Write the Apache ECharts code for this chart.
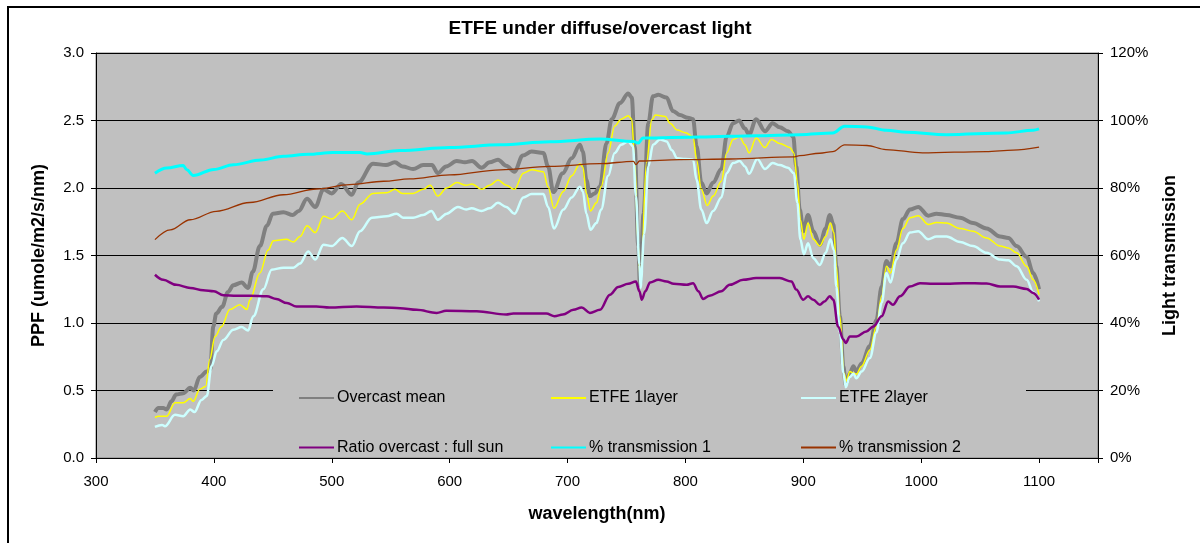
<!DOCTYPE html>
<html>
<head>
<meta charset="utf-8">
<script src="https://cdn.jsdelivr.net/npm/echarts@6/dist/echarts.min.js"></script>
<style>
  html, body { margin: 0; padding: 0; background: #ffffff; }
  #chart { width: 1200px; height: 543px; }
</style>
</head>
<body>
<div id="chart"></div>
<script>
// Wavelength (nm) / value pairs for each measured curve.
// PPF curves in umole/m2/s/nm (left axis).
const overcastMean = [
  [350,0.34],[353,0.37],[357,0.37],[360,0.36],[364,0.42],[368,0.47],[374,0.48],[380,0.52],[383,0.50],
  [388,0.60],[394,0.64],[397,0.66],[399.5,0.975],[402,1.07],[407,1.12],[412,1.23],[416.5,1.28],[423.5,1.30],
  [429,1.26],[433,1.38],[439,1.57],[445,1.72],[450,1.81],[459,1.82],[467,1.80],[472,1.83],[479,1.92],
  [486,1.86],[493,1.99],[500,1.96],[508,2.03],[517,1.95],[522.5,2.04],[535,2.18],[546,2.17],[553.5,2.19],
  [560,2.16],[569,2.14],[577.5,2.17],[585,2.17],[590,2.11],[597,2.16],[606,2.20],[613,2.19],[619,2.20],
  [627,2.15],[634,2.19],[641,2.21],[648,2.165],[655,2.12],[662,2.24],[669.5,2.27],[679.5,2.26],[683.5,2.16],
  [688,1.97],[696,2.11],[703.5,2.22],[710.5,2.32],[713,2.27],[716,2.06],[719,1.94],[723,1.96],[727.5,2.01],
  [733,2.33],[737.5,2.51],[744.5,2.63],[751.5,2.70],[754.5,2.67],[757,2.31],[760,1.57],[761.5,1.28],
  [764.5,1.81],[768.5,2.48],[772.5,2.68],[777,2.69],[784,2.67],[789.5,2.57],[795.5,2.54],[802,2.52],
  [806.5,2.51],[809.5,2.31],[813.5,2.04],[818,1.96],[823.5,2.04],[830.5,2.14],[835,2.38],[840.5,2.48],
  [845.5,2.50],[850.5,2.44],[854,2.395],[860,2.51],[867.5,2.42],[874,2.48],[880,2.45],[887,2.42],
  [891.5,2.38],[894,2.16],[897,1.84],[900,1.68],[904,1.80],[908.5,1.68],[914,1.58],[919,1.70],[922.5,1.80],
  [925.5,1.73],[928,1.42],[931,1.05],[934,0.68],[936,0.54],[939.5,0.63],[942.5,0.68],[945,0.64],[949.5,0.70],
  [956.5,0.83],[962,1.02],[966.5,1.27],[970.5,1.46],[974,1.42],[979,1.59],[984.5,1.77],[990.5,1.84],
  [997.5,1.86],[1006,1.795],[1013,1.81],[1021.5,1.80],[1033,1.78],[1044,1.74],[1055.5,1.70],[1067,1.64],
  [1074,1.63],[1081,1.57],[1089.5,1.49],[1095,1.37],[1100,1.25]
];

const etfe1Layer = [
  [350,0.30],[353,0.31],[357,0.31],[360,0.31],[367,0.41],[374,0.41],[380,0.44],[382.5,0.42],[388,0.51],
  [393,0.53],[396.5,0.73],[401,0.90],[406.5,0.975],[413.5,1.10],[422,1.135],[428,1.10],[430.5,1.17],
  [439,1.37],[446,1.54],[450.5,1.61],[461.5,1.62],[467.5,1.60],[473,1.64],[479,1.72],[486,1.67],[493,1.79],
  [500,1.77],[509,1.83],[517,1.765],[524,1.88],[535,1.96],[546.5,1.965],[553.5,1.99],[560,1.96],[569,1.96],
  [577.5,1.99],[583.5,2.02],[590,1.94],[597.5,2.00],[606,2.04],[614,2.02],[619,2.03],[627,1.99],[634,2.02],
  [641,2.06],[648,2.02],[655,1.99],[662.5,2.11],[669.5,2.135],[679.5,2.12],[683.5,2.01],[688.5,1.85],
  [696.5,1.975],[703.5,2.09],[710.5,2.18],[713,2.155],[716,1.96],[719.5,1.83],[724.5,1.89],[728.5,2.01],
  [734.5,2.26],[740,2.46],[745.5,2.51],[751.5,2.535],[754.5,2.51],[757,2.185],[760,1.57],[762,1.27],
  [767,2.19],[771.5,2.505],[774.5,2.54],[783,2.53],[787,2.48],[793,2.43],[800,2.41],[806.5,2.38],
  [809.5,2.21],[813.5,1.99],[818.5,1.87],[823.5,1.94],[830.5,2.05],[835,2.26],[840.5,2.36],[846,2.38],
  [850.5,2.32],[854,2.26],[860,2.37],[867.5,2.30],[873,2.36],[880,2.33],[888.5,2.30],[892,2.26],[895,2.04],
  [897.5,1.765],[900.5,1.62],[904,1.74],[908.5,1.62],[914,1.57],[919,1.64],[923,1.74],[926,1.67],[928,1.42],
  [931,1.05],[934.5,0.63],[936.5,0.57],[939.5,0.64],[942.5,0.63],[945,0.62],[949.5,0.68],[956.5,0.80],
  [962,0.975],[966.5,1.20],[970.5,1.42],[974,1.37],[979,1.54],[984.5,1.70],[990.5,1.78],[997.5,1.795],
  [1006,1.73],[1013,1.745],[1021.5,1.74],[1033,1.70],[1044,1.68],[1055.5,1.63],[1067,1.57],[1074,1.555],
  [1081,1.52],[1089.5,1.42],[1095,1.32],[1100,1.21]
];

const etfe2Layer = [
  [350,0.23],[356,0.245],[358.5,0.235],[367,0.32],[374,0.31],[380,0.36],[383.5,0.34],[389.5,0.43],[394,0.46],
  [398,0.68],[402.5,0.79],[408,0.875],[416.5,0.95],[423.5,0.97],[429,0.945],[433.5,1.05],[442,1.25],
  [449,1.395],[459,1.41],[467.5,1.41],[473,1.44],[480,1.53],[486,1.47],[493,1.58],[500,1.57],[509,1.63],
  [517,1.57],[524,1.68],[534,1.78],[546.5,1.79],[555,1.81],[560.5,1.78],[569,1.78],[577.5,1.80],[584.5,1.83],
  [590,1.765],[597.5,1.81],[607,1.86],[614,1.84],[618.5,1.85],[627,1.83],[634,1.85],[641,1.89],[648,1.86],
  [655,1.81],[662.5,1.93],[669.5,1.955],[679.5,1.955],[683.5,1.86],[688.5,1.70],[696.5,1.84],[703.5,1.93],
  [710.5,2.01],[713,1.975],[716,1.81],[719.5,1.69],[724.5,1.74],[728.5,1.84],[734.5,2.09],[740,2.26],
  [745.5,2.32],[751.5,2.345],[755.5,2.31],[758,1.94],[761,1.43],[762,1.26],[765,1.66],[768.5,2.16],
  [772.5,2.32],[778.5,2.36],[784,2.345],[788.5,2.28],[793,2.22],[800,2.215],[806.5,2.21],[809.5,2.06],
  [813.5,1.84],[818,1.74],[823.5,1.83],[830.5,1.93],[835,2.11],[840.5,2.185],[846,2.20],[850.5,2.16],
  [854,2.105],[861,2.215],[867.5,2.14],[874,2.185],[880,2.17],[887,2.15],[892,2.11],[895,1.89],[897.5,1.62],
  [900.5,1.51],[904,1.59],[908.5,1.48],[914,1.43],[919,1.52],[923,1.62],[926,1.54],[928,1.27],[931,0.93],
  [934,0.63],[936,0.525],[939.5,0.60],[942.5,0.625],[945,0.59],[949.5,0.64],[956.5,0.74],[962,0.93],
  [966.5,1.15],[970.5,1.37],[974,1.30],[979,1.47],[984.5,1.59],[990.5,1.67],[997.5,1.68],[1006,1.62],
  [1013,1.64],[1021.5,1.64],[1033,1.60],[1044,1.57],[1055.5,1.52],[1067,1.47],[1074,1.465],[1081,1.42],
  [1089.5,1.32],[1095,1.23],[1100,1.16]
];

// Percent curves (right axis).
const ratioOvercastFullSun = [
  [350,54.3],[357,52.8],[368,51.3],[380,50.4],[391,49.7],[400,49.4],[408,48.2],[419,48.1],[430,48.1],
  [445,47.9],[453,47.1],[462,45.9],[470,44.9],[487,44.9],[498,44.6],[521,44.9],[544,44.6],[558,44.4],
  [572,43.9],[589,43.0],[597,43.6],[623,43.5],[648,42.5],[654,42.8],[682,42.8],[689,42.0],[696,42.5],
  [705,43.9],[712,44.6],[719,43.0],[727.5,43.9],[736,48.4],[743,50.7],[751.5,51.6],[758,52.3],[761,49.4],
  [763,46.9],[766,49.4],[770,52.0],[777,52.8],[784,52.3],[790,51.6],[801,51.3],[806.5,51.8],[811,49.4],
  [815,47.1],[820.5,48.1],[830.5,49.4],[837.5,51.3],[849,52.8],[860,53.3],[880,53.3],[890,52.3],[894,49.9],
  [900,46.9],[904,47.9],[908.5,46.9],[914,45.4],[918,46.4],[922.5,47.9],[925.5,46.9],[929.5,39.0],
  [934,35.1],[936,34.1],[939.5,36.0],[945,36.0],[953.5,37.5],[959.5,39.0],[966.5,42.0],[972,46.4],
  [976,45.4],[982,47.9],[990.5,50.8],[999,51.8],[1010,51.6],[1021.5,51.6],[1035.5,51.8],[1055.5,51.7],
  [1067,50.8],[1078,50.8],[1089.5,50.1],[1095,48.9],[1100,46.9]
];

const transmission1 = [
  [350,84.4],[360,85.9],[374,86.7],[377,85.4],[382.5,83.7],[400,85.5],[416.5,86.9],[440,88.3],[459,89.4],
  [480,90.0],[501,90.5],[524,90.5],[530,90.1],[558,91.1],[600,92.0],[643,92.8],[685,93.7],[727.5,94.5],
  [756,93.8],[760,93.3],[764,94.8],[812.5,95.1],[860,95.5],[897,95.8],[925,96.3],[935,98.3],[954,98.1],
  [970.5,97.1],[987.5,96.5],[1021.5,95.8],[1072,96.3],[1095,97.1],[1100,97.5]
];

const transmission2 = [
  [350,64.7],[363,67.6],[380,70.6],[402,73.1],[430.5,75.7],[459,78.0],[487,79.7],[515,81.0],[544,82.0],
  [566,82.7],[600,83.9],[643,85.4],[685,86.4],[727.5,87.2],[756,87.9],[758,86.9],[761,88.0],[795,88.4],
  [838,88.6],[891.5,89.2],[897,89.6],[914,90.3],[925,90.8],[935,92.8],[954,92.6],[970,91.4],[1001,90.4],
  [1055,90.8],[1078,91.2],[1100,92.1]
];

// Axis ranges and ticks
const xTicks = { min: 300, max: 1150, step: 100 };
const ppfTicks = { min: 0, max: 3, step: 0.5 };
const pctTicks = { min: 0, max: 120, step: 20 };

const FONT = "'Liberation Sans', Arial, sans-serif";
const chart = echarts.init(document.getElementById('chart'), null, { renderer: 'canvas' });

function lineSeries(name, data, color, width, axis) {
  return {
    name: name,
    type: 'line',
    data: data,
    yAxisIndex: axis,
    showSymbol: false,
    symbol: 'none',
    smooth: 0.35,
    smoothMonotone: 'x',
    lineStyle: { color: color, width: width },
    itemStyle: { color: color },
    emphasis: { disabled: true },
    z: 2
  };
}

// Legend keys are plain line samples (the point marker is hidden).
const legendBase = {
  orient: 'vertical',
  padding: 0,
  itemWidth: 35,
  itemHeight: 14,
  itemGap: 33.5,
  top: 390,
  selectedMode: false,
  itemStyle: { opacity: 0, borderWidth: 0 },
  textStyle: { fontFamily: FONT, fontSize: 16, color: '#000', padding: [0, 0, 0, -2] }
};

chart.setOption({
  animation: false,
  backgroundColor: '#ffffff',
  textStyle: { fontFamily: FONT },
  title: {
    text: 'ETFE under diffuse/overcast light',
    left: 'center',
    top: 14,
    textStyle: { fontFamily: FONT, fontSize: 19, fontWeight: 'bold', color: '#000' }
  },
  graphic: [
    {
      type: 'rect',
      shape: { x: 8, y: 7, width: 1300, height: 700 },
      style: { fill: 'none', stroke: '#000', lineWidth: 2 },
      silent: true,
      z: 0
    },
    {
      type: 'rect',
      shape: { x: 273, y: 386, width: 753, height: 71 },
      style: { fill: '#C0C0C0' },
      silent: true,
      z: 1
    }
  ],
  legend: [
    Object.assign({}, legendBase, { left: 298, data: ['Overcast mean', 'Ratio overcast : full sun'] }),
    Object.assign({}, legendBase, { left: 550, data: ['ETFE 1layer', '% transmission 1'] }),
    Object.assign({}, legendBase, { left: 800, data: ['ETFE 2layer', '% transmission 2'] })
  ],
  grid: {
    left: 96, right: 102, top: 53, bottom: 85,
    show: true,
    backgroundColor: '#C0C0C0',
    borderColor: '#808080',
    borderWidth: 1,
    containLabel: false
  },
  xAxis: {
    type: 'value',
    min: xTicks.min, max: xTicks.max, interval: xTicks.step,
    name: 'wavelength(nm)',
    nameLocation: 'middle',
    nameGap: 47,
    nameTextStyle: { fontFamily: FONT, fontSize: 18, fontWeight: 'bold', color: '#000' },
    axisLine: { show: true, onZero: false, lineStyle: { color: '#000', width: 1 } },
    axisTick: { show: true, inside: false, length: 5, lineStyle: { color: '#000' } },
    axisLabel: {
      margin: 16, fontFamily: FONT, fontSize: 15, color: '#000',
      formatter: v => (v % 100 === 0 ? String(v) : '')
    },
    splitLine: { show: false }
  },
  yAxis: [
    {
      type: 'value',
      position: 'left',
      min: ppfTicks.min, max: ppfTicks.max, interval: ppfTicks.step,
      name: 'PPF (umole/m2/s/nm)',
      nameLocation: 'middle',
      nameGap: 48,
      nameTextStyle: { fontFamily: FONT, fontSize: 18, fontWeight: 'bold', color: '#000' },
      axisLine: { show: true, lineStyle: { color: '#000', width: 1 } },
      axisTick: { show: true, inside: false, length: 5, lineStyle: { color: '#000' } },
      axisLabel: { margin: 12, fontFamily: FONT, fontSize: 15, color: '#000', formatter: v => v.toFixed(1) },
      splitLine: { show: true, lineStyle: { color: '#000', width: 1 } }
    },
    {
      type: 'value',
      position: 'right',
      min: pctTicks.min, max: pctTicks.max, interval: pctTicks.step,
      name: 'Light transmission',
      nameLocation: 'middle',
      nameGap: 63,
      nameTextStyle: { fontFamily: FONT, fontSize: 18, fontWeight: 'bold', color: '#000' },
      axisLine: { show: true, lineStyle: { color: '#000', width: 1 } },
      axisTick: { show: true, inside: false, length: 5, lineStyle: { color: '#000' } },
      axisLabel: { margin: 12, fontFamily: FONT, fontSize: 15, color: '#000', formatter: '{value}%' },
      splitLine: { show: false }
    }
  ],
  series: [
    lineSeries('Overcast mean', overcastMean, '#808080', 4, 0),
    lineSeries('ETFE 1layer', etfe1Layer, '#FFFF00', 1.5, 0),
    lineSeries('ETFE 2layer', etfe2Layer, '#CCFFFF', 2.5, 0),
    lineSeries('Ratio overcast : full sun', ratioOvercastFullSun, '#800080', 2.5, 1),
    lineSeries('% transmission 1', transmission1, '#00FFFF', 3, 1),
    lineSeries('% transmission 2', transmission2, '#993300', 1.3, 1)
  ]
});
</script>
</body>
</html>
